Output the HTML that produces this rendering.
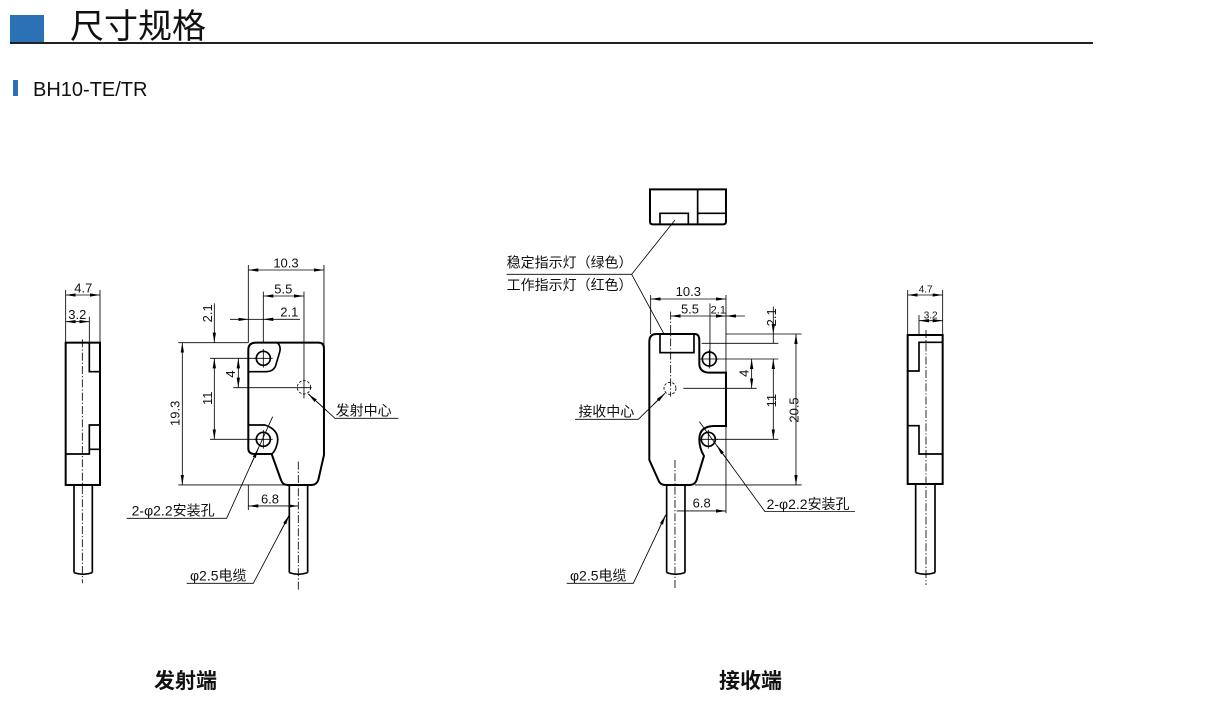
<!DOCTYPE html>
<html><head><meta charset="utf-8">
<style>
html,body{margin:0;padding:0;background:#fff;}
body{width:1206px;height:709px;overflow:hidden;position:relative;font-family:"Liberation Sans","Noto Sans CJK SC",sans-serif;}
svg text{font-family:"Liberation Sans","Noto Sans CJK SC",sans-serif;fill:#111;}
</style></head><body>
<svg width="1206" height="709" viewBox="0 0 1206 709" xmlns="http://www.w3.org/2000/svg">
<defs>
<marker id="ar" markerUnits="userSpaceOnUse" markerWidth="30" markerHeight="12" refX="30" refY="6" orient="auto-start-reverse" viewBox="0 0 30 12">
<path d="M0,1 L30,6 L0,11 Z" fill="#000"/>
</marker>
</defs>
<!-- header -->
<rect x="10" y="15" width="34" height="27" fill="#2a72b5"/>
<text x="70" y="38" font-size="34" fill="#222">尺寸规格</text>
<rect x="10" y="42" width="1083" height="2" fill="#222"/>
<rect x="13" y="80" width="5" height="16" fill="#2a72b5"/>
<text x="33" y="96" font-size="20" fill="#111">BH10-TE/TR</text>

<!-- Emitter group -->
<g transform="translate(50,250) scale(0.3333)" fill="none" stroke="#000" stroke-width="2.5">
 <rect x="47" y="278" width="103" height="427" stroke-width="6"/>
 <path d="M118,278 V365 H150 M150,525 H118 V612 H47 M118,598 H150" stroke-width="5"/>
 <path d="M72,705 V968 M127,705 V968 M72,968 Q99,978 127,968" stroke-width="5"/>
 <line x1="97" y1="268" x2="97" y2="1000" stroke-dasharray="24 6 4 6"/>
 <path d="M47,278 V120 M150,278 V120 M118,278 V200"/>
 <line x1="47" y1="135" x2="150" y2="135" marker-start="url(#ar)" marker-end="url(#ar)"/>
 <line x1="47" y1="215" x2="118" y2="215" marker-start="url(#ar)" marker-end="url(#ar)"/>
 <path d="M640,278 H805 Q822,278 822,295 V615 L805,690 Q800,705 785,705 H712 Q698,705 693,690 L665,612 H615 Q595,612 595,595 V300 Q595,278 618,278 Z" stroke-width="6"/>
 <path d="M682,278 Q695,290 688,310 L676,350 Q668,365 650,365 H595 M595,525 H645 Q690,540 682,580 Q676,605 665,612" stroke-width="5"/>
 <circle cx="640" cy="325" r="21" stroke-width="5"/>
 <circle cx="640" cy="568" r="21" stroke-width="5"/>
 <path d="M612,325 H668 M640,297 V353 M612,568 H668 M640,540 V596"/>
 <circle cx="762" cy="412" r="20" stroke-dasharray="8 5"/>
 <line x1="550" y1="413" x2="785" y2="413"/>
 <line x1="762" y1="125" x2="762" y2="445"/>
 <line x1="745" y1="635" x2="745" y2="1020" stroke-dasharray="24 6 4 6"/>
 <path d="M718,705 V968 M773,705 V968 M718,968 Q745,978 773,968" stroke-width="5"/>
 <path d="M595,278 V45 M822,290 V45 M640,278 V125 M385,278 H595 M480,325 H620 M480,568 H620 M385,705 H795 M595,705 V780"/>
 <line x1="595" y1="60" x2="822" y2="60" marker-start="url(#ar)" marker-end="url(#ar)"/>
 <line x1="640" y1="138" x2="762" y2="138" marker-start="url(#ar)" marker-end="url(#ar)"/>
 <line x1="540" y1="208" x2="595" y2="208" marker-end="url(#ar)"/>
 <line x1="750" y1="208" x2="640" y2="208" marker-end="url(#ar)"/>
 <line x1="595" y1="208" x2="640" y2="208"/>
 <line x1="493" y1="160" x2="493" y2="278" marker-end="url(#ar)"/>
 <line x1="493" y1="325" x2="493" y2="568" marker-start="url(#ar)" marker-end="url(#ar)"/>
 <line x1="565" y1="325" x2="565" y2="413" marker-start="url(#ar)" marker-end="url(#ar)"/>
 <line x1="397" y1="278" x2="397" y2="705" marker-start="url(#ar)" marker-end="url(#ar)"/>
 <line x1="595" y1="768" x2="745" y2="768" marker-start="url(#ar)" marker-end="url(#ar)"/>
 <path d="M1045,505 H855 L775,432" />
 <line x1="830" y1="482" x2="775" y2="432" marker-end="url(#ar)"/>
 <path d="M230,805 H530 L668,500"/>
 <line x1="600" y1="650" x2="625" y2="595" marker-end="url(#ar)"/>
 <path d="M410,1000 H610 L718,795"/>
 <line x1="690" y1="848" x2="718" y2="795" marker-end="url(#ar)"/>
 <g stroke="none" fill="#111" font-size="39">
  <text x="100" y="128" text-anchor="middle">4.7</text>
  <text x="82" y="207" text-anchor="middle">3.2</text>
  <text x="708" y="52" text-anchor="middle">10.3</text>
  <text x="700" y="130" text-anchor="middle">5.5</text>
  <text x="718" y="200" text-anchor="middle">2.1</text>
  <text transform="translate(486,190) rotate(-90)" text-anchor="middle">2.1</text>
  <text transform="translate(486,445) rotate(-90)" text-anchor="middle">11</text>
  <text transform="translate(555,372) rotate(-90)" text-anchor="middle">4</text>
  <text transform="translate(389,490) rotate(-90)" text-anchor="middle">19.3</text>
  <text x="660" y="760" text-anchor="middle">6.8</text>
  <text x="857" y="497" font-size="42">发射中心</text>
  <text x="245" y="797" font-size="42">2-φ2.2安装孔</text>
  <text x="420" y="992" font-size="42">φ2.5电缆</text>
 </g>
</g>

<!-- Receiver group -->
<g transform="translate(500,180) scale(0.3333)" fill="none" stroke="#000" stroke-width="2.5">
 <path d="M450,28 H678 V125 Q678,133 670,133 H458 Q450,133 450,125 Z" stroke-width="6"/>
 <path d="M480,133 V100 H565 V133 M593,28 V133 M593,100 H678" stroke-width="5"/>
 <path d="M525,120 L395,283 H20 M395,283 L492,462"/>
 <path d="M470,462 H585 Q598,462 598,482 V550 Q598,578 630,578 H678 V738 H640 Q598,740 598,778 Q598,805 612,828 L590,900 Q585,915 570,915 H495 Q480,915 475,900 L448,840 V485 Q448,462 470,462 Z" stroke-width="6"/>
 <rect x="480" y="462" width="102" height="56" stroke-width="5"/>
 <circle cx="628" cy="537" r="21" stroke-width="5"/>
 <circle cx="625" cy="778" r="21" stroke-width="5"/>
 <path d="M600,537 H656 M628,509 V565 M597,778 H653 M625,750 V806"/>
 <circle cx="510" cy="625" r="18" stroke-dasharray="8 5"/>
 <line x1="550" y1="625" x2="770" y2="625"/>
 <line x1="512" y1="395" x2="512" y2="650" stroke-dasharray="24 6 4 6"/>
 <line x1="525" y1="840" x2="525" y2="1230" stroke-dasharray="24 6 4 6"/>
 <path d="M500,915 V1178 M555,915 V1178 M500,1178 Q527,1188 555,1178" stroke-width="5"/>
 <path d="M452,462 V345 M678,345 V1000 M630,370 V560 M605,490 H835 M650,537 H835 M650,778 H835 M678,462 H905 M585,915 H905"/>
 <line x1="452" y1="357" x2="678" y2="357" marker-start="url(#ar)" marker-end="url(#ar)"/>
 <line x1="512" y1="408" x2="630" y2="408" marker-start="url(#ar)"/>
 <line x1="630" y1="408" x2="678" y2="408" marker-end="url(#ar)"/>
 <line x1="735" y1="408" x2="678" y2="408" marker-end="url(#ar)"/>
 <line x1="820" y1="380" x2="820" y2="462" marker-end="url(#ar)"/>
 <line x1="820" y1="462" x2="820" y2="490"/>
 <line x1="820" y1="537" x2="820" y2="778" marker-start="url(#ar)" marker-end="url(#ar)"/>
 <line x1="755" y1="537" x2="755" y2="625" marker-start="url(#ar)" marker-end="url(#ar)"/>
 <line x1="888" y1="462" x2="888" y2="915" marker-start="url(#ar)" marker-end="url(#ar)"/>
 <line x1="530" y1="993" x2="678" y2="993" marker-end="url(#ar)"/>
 <path d="M225,718 H415 L495,640"/>
 <line x1="460" y1="674" x2="495" y2="640" marker-end="url(#ar)"/>
 <path d="M1065,995 H795 L598,725"/>
 <line x1="690" y1="851" x2="650" y2="796" marker-end="url(#ar)"/>
 <path d="M200,1210 H400 L497,1005"/>
 <line x1="475" y1="1052" x2="497" y2="1005" marker-end="url(#ar)"/>
 <g stroke="none" fill="#111" font-size="39">
  <text x="20" y="262" font-size="42">稳定指示灯（绿色）</text>
  <text x="20" y="330" font-size="42">工作指示灯（红色）</text>
  <text x="565" y="348" text-anchor="middle">10.3</text>
  <text x="570" y="400" text-anchor="middle">5.5</text>
  <text x="655" y="400" text-anchor="middle" font-size="33">2.1</text>
  <text transform="translate(828,412) rotate(-90)" text-anchor="middle">2.1</text>
  <text transform="translate(828,662) rotate(-90)" text-anchor="middle">11</text>
  <text transform="translate(746,580) rotate(-90)" text-anchor="middle">4</text>
  <text transform="translate(896,690) rotate(-90)" text-anchor="middle">20.5</text>
  <text x="605" y="983" text-anchor="middle">6.8</text>
  <text x="235" y="710" font-size="42">接收中心</text>
  <text x="800" y="987" font-size="42">2-φ2.2安装孔</text>
  <text x="210" y="1202" font-size="42">φ2.5电缆</text>
 </g>
</g>

<!-- Right side view -->
<g transform="translate(890,280) scale(0.3333)" fill="none" stroke="#000" stroke-width="2.5">
 <rect x="53" y="165" width="105" height="447" stroke-width="6"/>
 <path d="M158,187 H87 V273 H53 M53,437 H87 V522 H158" stroke-width="5"/>
 <path d="M77,612 V878 M135,612 V878 M77,878 Q106,888 135,878" stroke-width="5"/>
 <line x1="108" y1="150" x2="108" y2="915" stroke-dasharray="24 6 4 6"/>
 <path d="M53,165 V30 M158,165 V30 M87,165 V105"/>
 <line x1="53" y1="45" x2="158" y2="45" marker-start="url(#ar)" marker-end="url(#ar)"/>
 <line x1="87" y1="122" x2="158" y2="122" marker-start="url(#ar)" marker-end="url(#ar)"/>
 <g stroke="none" fill="#111" font-size="30">
  <text x="107" y="38" text-anchor="middle">4.7</text>
  <text x="122" y="115" text-anchor="middle">3.2</text>
 </g>
</g>

<text x="154" y="688" font-size="21" font-weight="bold">发射端</text>
<text x="719" y="688" font-size="21" font-weight="bold">接收端</text>
</svg>
</body></html>
